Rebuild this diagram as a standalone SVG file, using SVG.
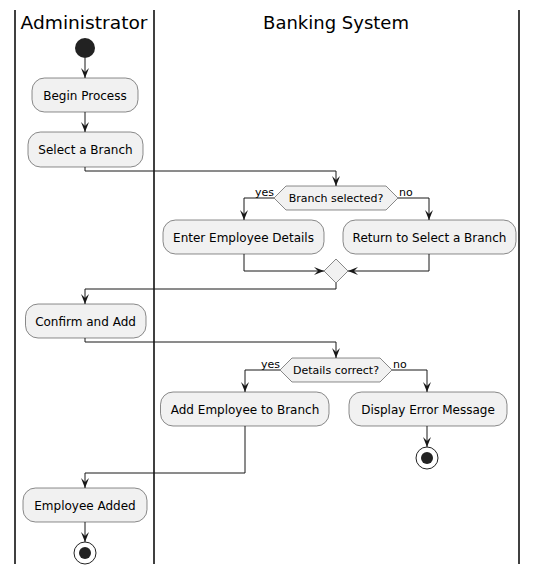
<svg xmlns="http://www.w3.org/2000/svg" width="538" height="575" viewBox="0 0 538 575">
<style>
.lane{stroke:#000;stroke-width:1.5;fill:none}
.title{font-family:"DejaVu Sans",sans-serif;font-size:18px;fill:#000;text-anchor:middle}
.box{fill:#F1F1F1;stroke:#181818;stroke-width:0.5}
.t{font-family:"DejaVu Sans",sans-serif;font-size:12px;fill:#000;text-anchor:middle}
.s{font-family:"DejaVu Sans",sans-serif;font-size:11px;fill:#000}
.c{fill:none;stroke:#181818;stroke-width:1}
.a{marker-end:url(#ah)}
</style>
<defs>
<marker id="ah" markerUnits="userSpaceOnUse" markerWidth="11" markerHeight="9" refX="10" refY="4" orient="auto">
<path d="M0,0 L10,4 L0,8 L4,4 Z" fill="#181818"/>
</marker>
</defs>
<rect width="538" height="575" fill="#fff"/>
<g id="lanes">
<line class="lane" x1="15" y1="10" x2="15" y2="564"/>
<line class="lane" x1="154" y1="10" x2="154" y2="564"/>
<line class="lane" x1="519" y1="10" x2="519" y2="564"/>
<text class="title" x="84" y="29" textLength="127" lengthAdjust="spacingAndGlyphs">Administrator</text>
<text class="title" x="336" y="29">Banking System</text>
</g>
<g id="connectors">
<path class="c a" d="M85,58 L85,78"/>
<path class="c a" d="M85,112 L85,132"/>
<path class="c a" d="M85,167 L85,171 L336,171 L336,186"/>
<path class="c a" d="M274,198 L244,198 L244,220"/>
<path class="c a" d="M398,198 L429,198 L429,220"/>
<path class="c a" d="M244,254 L244,271 L324,271"/>
<path class="c a" d="M429,254 L429,271 L348,271"/>
<path class="c a" d="M336,283 L336,289 L85,289 L85,304"/>
<path class="c a" d="M85,338 L85,342 L336,342 L336,358"/>
<path class="c a" d="M280,370 L245,370 L245,392"/>
<path class="c a" d="M392,370 L427,370 L427,392"/>
<path class="c a" d="M245,426 L245,473 L85,473 L85,488"/>
<path class="c a" d="M85,522 L85,542"/>
<path class="c a" d="M427,426 L427,447"/>
<text class="s" x="274" y="196" text-anchor="end">yes</text>
<text class="s" x="399" y="196">no</text>
<text class="s" x="280" y="368" text-anchor="end">yes</text>
<text class="s" x="393" y="368">no</text>
</g>
<g id="start"><circle cx="85" cy="48" r="10" fill="#222"/></g>
<g id="begin"><rect class="box" x="32" y="78" width="106" height="34" rx="12.5"/><text class="t" x="85" y="99.5">Begin Process</text></g>
<g id="select"><rect class="box" x="28" y="132" width="115" height="35" rx="12.5"/><text class="t" x="85.5" y="154">Select a Branch</text></g>
<g id="branchSelected"><polygon class="box" points="274,198 286,186 386,186 398,198 386,210 286,210"/><text class="s" x="336" y="202" text-anchor="middle">Branch selected?</text></g>
<g id="enterDetails"><rect class="box" x="163" y="220" width="161" height="34" rx="12.5"/><text class="t" x="243.5" y="241.5">Enter Employee Details</text></g>
<g id="returnSelect"><rect class="box" x="343" y="220" width="173" height="34" rx="12.5"/><text class="t" x="429.5" y="241.5">Return to Select a Branch</text></g>
<g id="merge"><polygon class="box" points="336,259 348,271 336,283 324,271"/></g>
<g id="confirm"><rect class="box" x="25.5" y="304" width="120.5" height="34" rx="12.5"/><text class="t" x="85.5" y="325.5">Confirm and Add</text></g>
<g id="detailsCorrect"><polygon class="box" points="280,370 292,358 380,358 392,370 380,382 292,382"/><text class="s" x="336" y="374" text-anchor="middle">Details correct?</text></g>
<g id="addEmployee"><rect class="box" x="160.5" y="392" width="168.5" height="34" rx="12.5"/><text class="t" x="245" y="413.5">Add Employee to Branch</text></g>
<g id="displayError"><rect class="box" x="349" y="392" width="158" height="34" rx="12.5"/><text class="t" x="428" y="413.5">Display Error Message</text></g>
<g id="end1"><circle cx="427" cy="458" r="11" fill="none" stroke="#222" stroke-width="1"/><circle cx="427" cy="458" r="6" fill="#222"/></g>
<g id="added"><rect class="box" x="23" y="488" width="124" height="34" rx="12.5"/><text class="t" x="85" y="509.5">Employee Added</text></g>
<g id="end2"><circle cx="85" cy="553" r="11" fill="none" stroke="#222" stroke-width="1"/><circle cx="85" cy="553" r="6" fill="#222"/></g>
</svg>
